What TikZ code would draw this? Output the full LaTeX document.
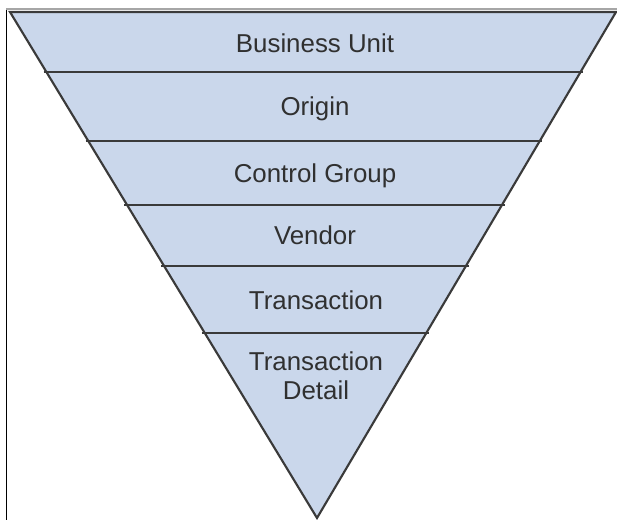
\documentclass[tikz,border=0pt]{standalone}
\usepackage{fontspec}
\setmainfont{Liberation Sans}
\usetikzlibrary{calc}
\definecolor{bandfill}{HTML}{CAD7EB}
\definecolor{edgegray}{HTML}{3A3A3A}
\definecolor{textgray}{HTML}{303030}
\begin{document}
\begin{tikzpicture}[x=0.75pt,y=-0.75pt,
  band/.style={draw=edgegray,line width=1.6pt},
  level/.style={text=textgray,font=\fontsize{19.4}{21.75}\selectfont,align=center,anchor=base,inner sep=0pt}]
\useasboundingbox (0,0) rectangle (617,520);
\draw[black,line width=1.2pt] (6.5,9) -- (6.5,520);
\draw[gray!70,line width=1.5pt] (6,9) -- (617,9);

\coordinate (tl) at (10,12);
\coordinate (tr) at (616,12);
\coordinate (apex) at (317,518);
\filldraw[fill=bandfill,band] (tl) -- (tr) -- (apex) -- cycle;

% band lines
\foreach \f in {0.1186,0.255,0.3814,0.502,0.634}
  \draw[band,shorten <=-2pt,shorten >=-2pt] ($(tl)!\f!(apex)$) -- ($(tr)!\f!(apex)$);

\node[level] (unit) at (315,53) {Business Unit};
\node[level] (origin) at (315,116) {Origin};
\node[level] (group) at (315,183) {Control Group};
\node[level] (vendor) at (315,245) {Vendor};
\node[level] (trans) at (316,309) {Transaction};
\node[level] (detail) at (316,399) {Transaction\\Detail};
\end{tikzpicture}
\end{document}
